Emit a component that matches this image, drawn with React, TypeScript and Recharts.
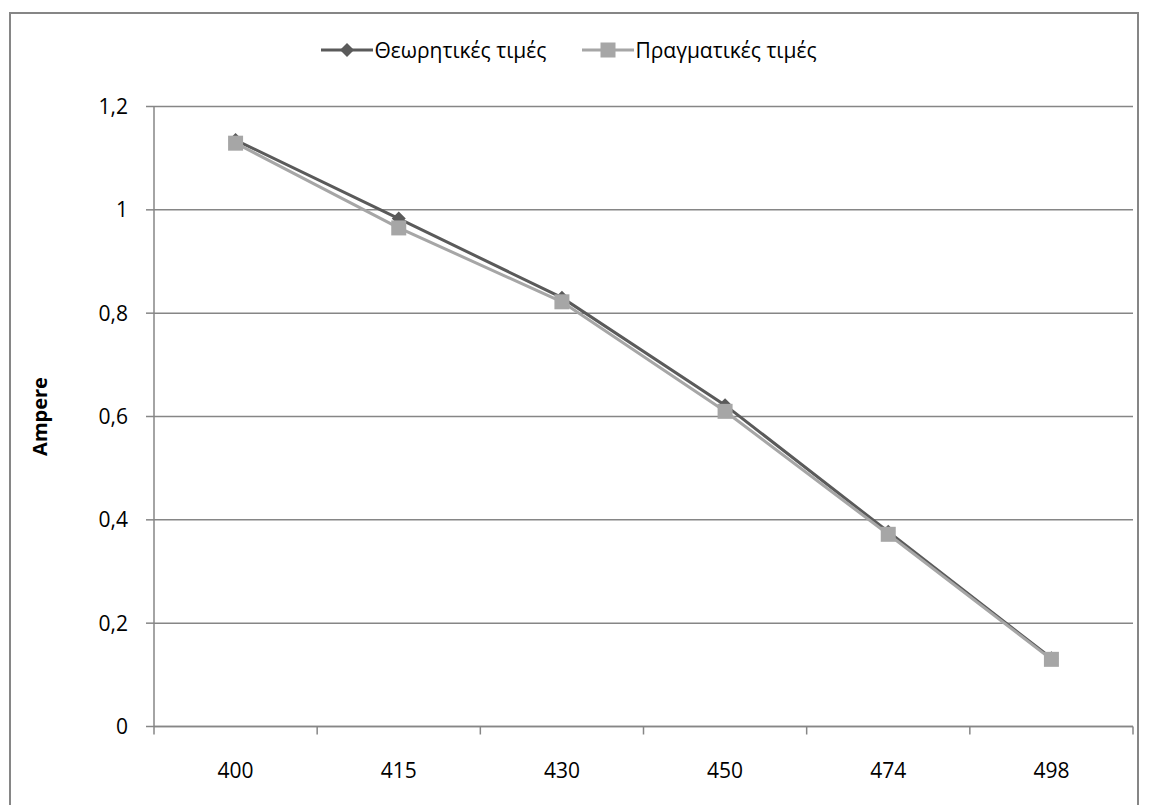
import React from 'react';
import { LineChart, Line, XAxis, YAxis, CartesianGrid } from 'recharts';

// Wavelength categories (nm) on the horizontal axis
const categories = ['400', '415', '430', '450', '474', '498'];
// Current readings in ampere
const theoreticalValues = [1.135, 0.983, 0.83, 0.622, 0.377, 0.132];
const measuredValues = [1.129, 0.965, 0.822, 0.61, 0.372, 0.13];
const yTicks = [0, 0.2, 0.4, 0.6, 0.8, 1, 1.2];

const SERIES_THEORY = 'Θεωρητικές τιμές';
const SERIES_REAL = 'Πραγματικές τιμές';

const data = categories.map((c, i) => ({
  name: c,
  theory: theoreticalValues[i],
  real: measuredValues[i],
}));

const DARK = '#5a5a5a';
const LIGHT = '#a6a6a6';
const AXIS = '#868686';
const FONT = '"Open Sans", sans-serif';

const Diamond = (props: any) => {
  const { cx, cy } = props;
  if (cx == null || cy == null) return null;
  const r = 7;
  return (
    <path
      d={`M${cx},${cy - r} L${cx + r},${cy} L${cx},${cy + r} L${cx - r},${cy} Z`}
      fill={DARK}
      stroke="none"
    />
  );
};

const Square = (props: any) => {
  const { cx, cy } = props;
  if (cx == null || cy == null) return null;
  const s = 15;
  return <rect x={cx - s / 2} y={cy - s / 2} width={s} height={s} fill={LIGHT} stroke="none" />;
};

// Category label centred in its band, with tick marks on the band edges
const XTick = (props: any) => {
  const { x, y, payload, index, visibleTicksCount, width } = props;
  const band = width && visibleTicksCount ? width / visibleTicksCount : 163;
  const left = x - band / 2;
  const right = x + band / 2;
  return (
    <g>
      <line x1={left} y1={y} x2={left} y2={y + 8} stroke={AXIS} strokeWidth={1.5} />
      {index === visibleTicksCount - 1 && (
        <line x1={right} y1={y} x2={right} y2={y + 8} stroke={AXIS} strokeWidth={1.5} />
      )}
      <text x={x} y={y + 51} textAnchor="middle" fill="#000" fontSize={21} fontFamily={FONT}>
        {payload.value}
      </text>
    </g>
  );
};

const LegendBox = () => {
  const item = (label: string, color: string, marker: 'diamond' | 'square') => (
    <div style={{ display: 'flex', alignItems: 'center', marginRight: 36 }}>
      <svg width={52} height={20}>
        <line x1={0} y1={10} x2={52} y2={10} stroke={color} strokeWidth={3} />
        {marker === 'diamond' ? (
          <path d="M26,3 L33,10 L26,17 L19,10 Z" fill={color} />
        ) : (
          <rect x={18.5} y={2.5} width={15} height={15} fill={color} />
        )}
      </svg>
      <span style={{ fontFamily: FONT, fontSize: 21, color: '#000', marginLeft: 1 }}>{label}</span>
    </div>
  );
  return (
    <div
      style={{
        position: 'absolute',
        left: 0,
        top: 36,
        width: 1150,
        display: 'flex',
        justifyContent: 'center',
        paddingLeft: 24,
        boxSizing: 'border-box',
      }}
    >
      {item(SERIES_THEORY, DARK, 'diamond')}
      {item(SERIES_REAL, LIGHT, 'square')}
    </div>
  );
};

export default function App() {
  return (
    <div style={{ position: 'absolute', left: 0, top: 0, width: 1150, height: 805, background: '#fff' }}>
      <div
        style={{
          position: 'absolute',
          left: 9,
          top: 12,
          width: 1130,
          height: 800,
          border: `2px solid ${AXIS}`,
          boxSizing: 'border-box',
        }}
      />
      <div style={{ position: 'absolute', left: 0, top: 0 }}>
        <LineChart
          width={1150}
          height={805}
          data={data}
          margin={{ top: 106.5, right: 17, bottom: 48.5, left: 34 }}
        >
          <CartesianGrid vertical={false} stroke={AXIS} strokeWidth={1.5} />
          <XAxis
            dataKey="name"
            scale="band"
            axisLine={{ stroke: AXIS, strokeWidth: 1.5 }}
            tickLine={false}
            tickSize={0}
            tickMargin={0}
            tick={<XTick />}
            height={30}
            interval={0}
          />
          <YAxis
            width={120}
            domain={[0, 1.2]}
            ticks={yTicks}
            interval={0}
            axisLine={{ stroke: AXIS, strokeWidth: 1.5 }}
            tickLine={{ stroke: AXIS, strokeWidth: 1.5 }}
            tickSize={8}
            tickMargin={18}
            tickFormatter={(v: number) => String(v).replace('.', ',')}
            tick={{ fill: '#000', fontSize: 21, fontFamily: FONT }}
            label={{
              value: 'Ampere',
              angle: -90,
              position: 'insideLeft',
              offset: 6,
              style: { textAnchor: 'middle', fontFamily: FONT, fontWeight: 700, fontSize: 20, fill: '#000' },
            }}
          />
          <Line
            dataKey="theory"
            name={SERIES_THEORY}
            stroke={DARK}
            strokeWidth={3}
            dot={<Diamond />}
            activeDot={false}
            isAnimationActive={false}
          />
          <Line
            dataKey="real"
            name={SERIES_REAL}
            stroke={LIGHT}
            strokeWidth={3}
            dot={<Square />}
            activeDot={false}
            isAnimationActive={false}
          />
        </LineChart>
      </div>
      <LegendBox />
    </div>
  );
}
